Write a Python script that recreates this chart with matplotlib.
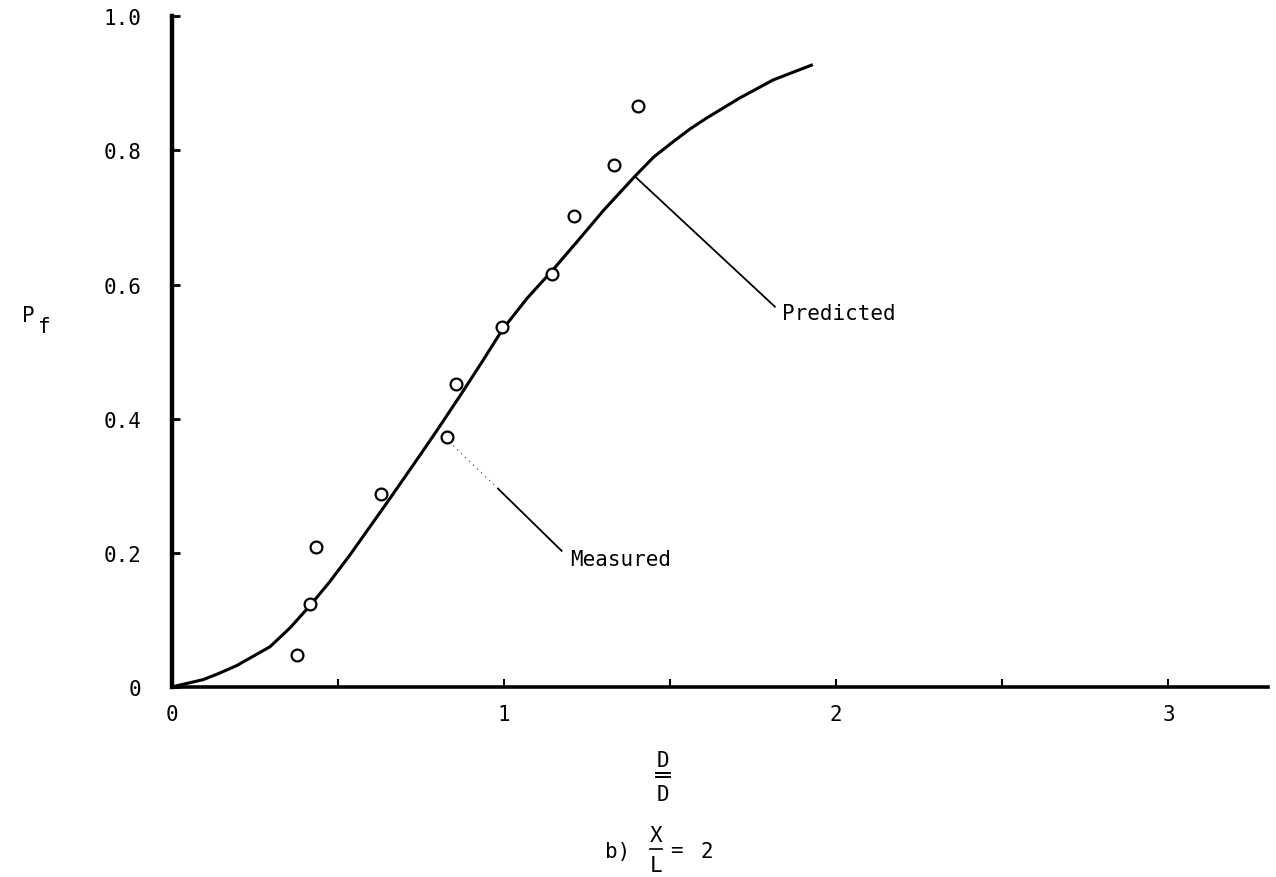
import matplotlib
matplotlib.use("Agg")
import matplotlib.pyplot as plt
from matplotlib.lines import Line2D

# measured points (D/D, Pf)
meas_x = [0.375, 0.415, 0.433, 0.628, 0.828, 0.855, 0.995, 1.144, 1.210, 1.330, 1.402]
meas_y = [0.047, 0.124, 0.209, 0.288, 0.373, 0.451, 0.536, 0.616, 0.702, 0.778, 0.866]

# predicted curve
pred_x = [0.0, 0.024, 0.094, 0.14, 0.195, 0.295, 0.355, 0.415, 0.475, 0.536, 0.596,
          0.656, 0.701, 0.75, 0.797, 0.867, 0.93, 0.995, 1.07, 1.147, 1.218,
          1.30, 1.393, 1.45, 1.509, 1.56, 1.609, 1.709, 1.810, 1.925]
pred_y = [0.0, 0.003, 0.011, 0.020, 0.032, 0.060, 0.088, 0.121, 0.157, 0.197, 0.239,
          0.281, 0.313, 0.348, 0.382, 0.434, 0.482, 0.533, 0.580, 0.622, 0.663,
          0.711, 0.761, 0.790, 0.813, 0.832, 0.848, 0.878, 0.905, 0.927]

xticks = [0, 1, 2, 3]
xminor = [0.5, 1.5, 2.5]
yticks = [0, 0.2, 0.4, 0.6, 0.8, 1.0]
ytick_labels = ["0", "0.2", "0.4", "0.6", "0.8", "1.0"]

mono = "DejaVu Sans Mono"
fs = 15
W, H = 1276, 878


def ftext(px, py, s, **kw):
    # place text by reference pixel position
    fig.text(px / W, 1 - py / H, s, fontsize=fs, family=mono,
             ha=kw.pop("ha", "center"), va=kw.pop("va", "center"), **kw)


def fline(x0, x1, py, lw=1.4):
    fig.add_artist(Line2D([x0 / W, x1 / W], [1 - py / H, 1 - py / H],
                          transform=fig.transFigure, color="black", lw=lw))


fig = plt.figure(figsize=(12.76, 8.78), dpi=100)
ax = fig.add_axes([0.1348, 0.2164, 0.859, 0.764])

ax.plot(pred_x, pred_y, color="black", lw=2.2, solid_joinstyle="round")
ax.plot(meas_x, meas_y, linestyle="none", marker="o", markersize=8.5,
        markerfacecolor="white", markeredgecolor="black", markeredgewidth=1.6)

# leader lines and labels
ax.plot([1.394, 1.815], [0.761, 0.567], color="black", lw=1.3)
ax.text(1.836, 0.557, "Predicted", fontsize=fs, family=mono, va="center", ha="left")
ax.plot([0.846, 0.982], [0.360, 0.2955], color="0.45", lw=1.0, ls=(0, (1, 3)))
ax.plot([0.982, 1.173], [0.2955, 0.203], color="black", lw=1.3)
ax.text(1.198, 0.191, "Measured", fontsize=fs, family=mono, va="center", ha="left")

ax.set_xlim(0, 3.30)
ax.set_ylim(0, 1.0)

for s in ["top", "right"]:
    ax.spines[s].set_visible(False)
ax.spines["left"].set_linewidth(3.2)
ax.spines["bottom"].set_linewidth(2.6)

ax.set_xticks(xticks)
ax.set_xticklabels([str(t) for t in xticks], family=mono, fontsize=fs)
ax.set_xticks(xminor, minor=True)
ax.set_yticks(yticks)
ax.set_yticklabels(ytick_labels, family=mono, fontsize=fs)
ax.tick_params(axis="x", which="both", direction="in", length=6, width=1.5, pad=12)
ax.tick_params(axis="y", direction="in", length=6, width=2, pad=22)

# y label P_f
ftext(28, 316, "P")
ftext(44, 327, "f")

# x label D/D with double bar
ftext(663, 761, "D")
fline(656, 670, 774)
fline(656, 670, 778)
ftext(663, 795, "D")

# caption b) X/L = 2
ftext(618, 852, "b)")
ftext(656, 836, "X")
fline(650, 662, 850, lw=1.2)
ftext(656, 866, "L")
ftext(676, 851, "=")
ftext(707, 852, "2")

fig.savefig("out.png", dpi=100)
